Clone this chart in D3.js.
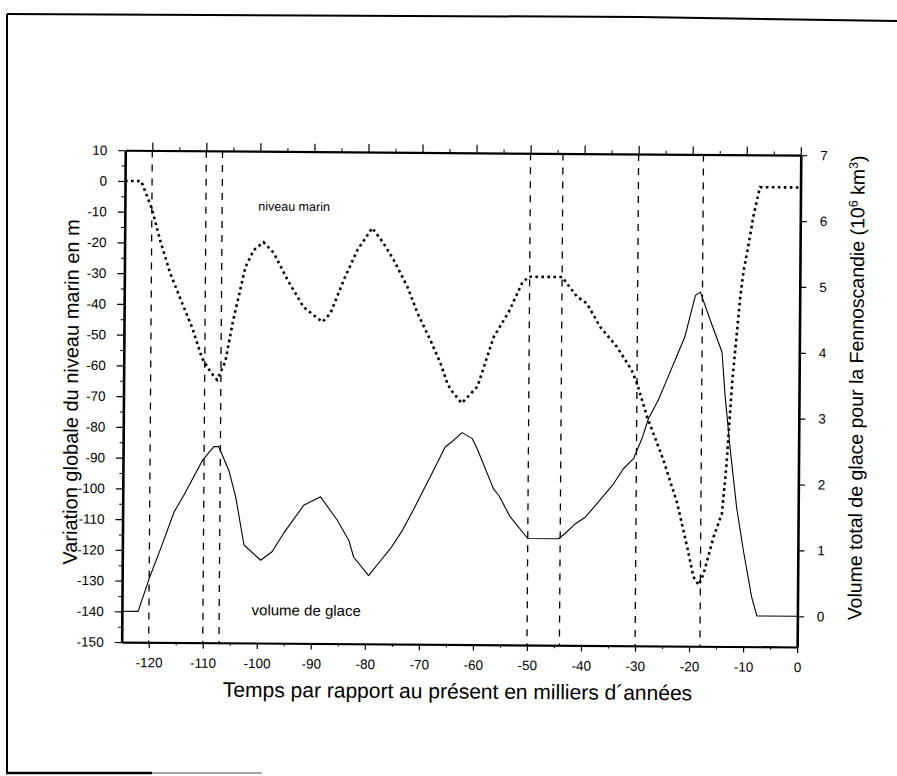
<!DOCTYPE html>
<html><head><meta charset="utf-8">
<script src="https://cdn.jsdelivr.net/npm/d3@7"></script>
<style>
body{margin:0;background:#fff}
svg{display:block}
text{font-family:"Liberation Sans",Arial,Helvetica,sans-serif;fill:#000}
</style>
</head><body>
<svg id="chart" width="897" height="776"></svg>
<script>
// ---- data ----
const seaYears = [-125,-122,-120,-118.3,-116.5,-114.3,-112.4,-110.5,-108.9,-107.7,-106.2,-104.8,-102.6,-101.1,-99.3,-97.4,-94.8,-91.8,-88.3,-86.8,-84.4,-81.9,-79.2,-77.1,-75.2,-72.6,-70.7,-68.3,-66.4,-65.1,-64.5,-62.4,-59.5,-56.6,-53.8,-51.4,-50.2,-44.0,-41.2,-39.4,-36.9,-33.8,-31.0,-30.0,-28.1,-25.0,-22.4,-20.5,-19.3,-18.3,-17.4,-15.6,-14.1,-13.3,-12.4,-11.0,-10.4,-9.6,-8.7,-7.5,0];
const seaLevel = [0,0,-9,-20,-30,-39.5,-47.5,-57.5,-62,-64.5,-58.5,-45,-27.7,-22.2,-19.6,-23,-31.8,-40.6,-45.4,-42.5,-31.7,-21.9,-14.7,-19.6,-25,-33.8,-42.3,-51,-58.5,-65,-67,-71.5,-66,-50,-41.6,-32.3,-30.2,-30.2,-36.6,-38.7,-46.3,-52.7,-60.3,-64.6,-75.4,-89.5,-103.5,-117.6,-127.4,-130.1,-126.3,-114.3,-106.7,-90.4,-64.4,-36.2,-27.5,-19.9,-10.1,-0.5,-0.5];
const iceYears = [-125,-122,-120,-117.9,-115.5,-113.7,-110.3,-108.2,-107.3,-105.4,-104.1,-102.5,-99.4,-97.3,-95.2,-91.5,-88.4,-85.3,-83.1,-82.2,-79.4,-77.2,-75.4,-73.2,-71.1,-68.1,-65.4,-64.2,-62.3,-60.4,-59.5,-56.4,-55.4,-53.3,-50,-44.3,-43.1,-41.2,-39.4,-37.2,-34.2,-32.4,-30.5,-29,-27.8,-26,-24.5,-22.7,-21.2,-20.3,-19.3,-18.4,-16.5,-14.3,-13.7,-12.7,-11.4,-10.1,-8.5,-7.5,0];
const iceVolume = [0,0,0.5,0.96,1.51,1.77,2.3,2.51,2.51,2.15,1.75,1.02,0.79,0.92,1.2,1.63,1.76,1.41,1.1,0.85,0.57,0.8,0.98,1.26,1.59,2.08,2.53,2.61,2.75,2.66,2.51,1.9,1.8,1.48,1.15,1.15,1.23,1.38,1.48,1.69,1.99,2.22,2.38,2.68,2.99,3.27,3.57,3.93,4.23,4.53,4.86,4.91,4.48,4.0,3.36,2.56,1.65,1.0,0.29,0,0];
const markerYears = [-120,-110,-107,-50,-44,-30,-18];
const xTicks = [-120,-110,-100,-90,-80,-70,-60,-50,-40,-30,-20,-10,0];
const xMinorTicks = [-115,-105,-95,-85,-75,-65,-55,-45,-35,-25,-15,-5];
const seaTicks = [10,0,-10,-20,-30,-40,-50,-60,-70,-80,-90,-100,-110,-120,-130,-140,-150];
const seaMinorTicks = [5,-5,-15,-25,-35,-45,-55,-65,-75,-85,-95,-105,-115,-125,-135,-145];
const iceTicks = [0,1,2,3,4,5,6,7];
const xTitle = "Temps par rapport au présent en milliers d\u00B4années";
const leftTitle = "Variation globale du niveau marin en m";
const seaLabel = "niveau marin";
const iceLabel = "volume de glace";

// ---- layout ----
const svg = d3.select("#chart");
const L = 123.5, R = 799, T = 152.7, B = 644.5;
const x = d3.scaleLinear().domain([-125, 0]).range([L, R]);
const ySea = d3.scaleLinear().domain([-150, 10]).range([B, T]);
// right axis: 0 km3 aligned with -140 m, 7 aligned with +10 m
const yIce = d3.scaleLinear().domain([-10/21.4286, 7]).range([B, T]);

// scanned frame
const frame = svg.append("g").attr("fill","none").attr("stroke","#000");
frame.append("polyline").attr("points","7,14 640,17 897,21").attr("stroke-width",2);
frame.append("line").attr("x1",7).attr("y1",14).attr("x2",7).attr("y2",773).attr("stroke-width",2);
frame.append("line").attr("x1",6).attr("y1",773).attr("x2",152).attr("y2",773).attr("stroke-width",2.5);
frame.append("line").attr("x1",152).attr("y1",773).attr("x2",262).attr("y2",773).attr("stroke","#888").attr("stroke-width",1.5);

const g = svg.append("g").attr("transform","rotate(0.42,460,395)");

// vertical dashed marker lines
g.append("g").selectAll("line").data(markerYears).join("line")
  .attr("x1", d => x(d)).attr("x2", d => x(d))
  .attr("y1", ySea(10)).attr("y2", ySea(-150))
  .attr("stroke","#000").attr("stroke-width",1.3).attr("stroke-dasharray","7,7");

function styleAxis(sel, w) {
  sel.select(".domain").attr("stroke","#000").attr("stroke-width", w);
  sel.selectAll(".tick line").attr("stroke","#000").attr("stroke-width",1.2);
  sel.selectAll("text").attr("font-size","13.5px").attr("font-family",'"Liberation Sans",Arial,sans-serif');
}

// bottom axis
const gb = g.append("g").attr("transform",`translate(0,${B})`)
  .call(d3.axisBottom(x).tickValues(xTicks).tickSize(6).tickSizeOuter(0).tickPadding(9.5).tickFormat(d => String(d)));
styleAxis(gb, 2.2);
g.append("g").attr("transform",`translate(0,${B})`)
  .call(d3.axisBottom(x).tickValues(xMinorTicks).tickSize(3).tickFormat(""))
  .call(s => { s.select(".domain").remove(); s.selectAll("line").attr("stroke","#000"); });

// top axis
const gt = g.append("g").attr("transform",`translate(0,${T})`)
  .call(d3.axisTop(x).tickValues(xTicks).tickSize(8).tickSizeOuter(0).tickFormat(""));
styleAxis(gt, 2.2);
g.append("g").attr("transform",`translate(0,${T})`)
  .call(d3.axisTop(x).tickValues(xMinorTicks).tickSize(3.5).tickFormat(""))
  .call(s => { s.select(".domain").remove(); s.selectAll("line").attr("stroke","#000"); });

// left axis
const gl = g.append("g").attr("transform",`translate(${L},0)`)
  .call(d3.axisLeft(ySea).tickValues(seaTicks).tickSize(7).tickSizeOuter(0).tickPadding(11).tickFormat(d => String(d)));
styleAxis(gl, 2.6);
g.append("g").attr("transform",`translate(${L},0)`)
  .call(d3.axisLeft(ySea).tickValues(seaMinorTicks).tickSize(3.5).tickFormat(""))
  .call(s => { s.select(".domain").remove(); s.selectAll("line").attr("stroke","#000"); });

// right axis
const gr = g.append("g").attr("transform",`translate(${R},0)`)
  .call(d3.axisRight(yIce).tickValues(iceTicks).tickSize(6.5).tickSizeOuter(0).tickPadding(13).tickFormat(d => String(d)));
styleAxis(gr, 2.6);

// ice volume (solid)
const iceLine = d3.line().x((d,i) => x(iceYears[i])).y(d => yIce(d));
g.append("path").attr("d", iceLine(iceVolume))
  .attr("fill","none").attr("stroke","#000").attr("stroke-width",1.1).attr("stroke-linejoin","round");

// sea level (dotted)
const seaLine = d3.line().x((d,i) => x(seaYears[i])).y(d => ySea(d));
g.append("path").attr("d", seaLine(seaLevel))
  .attr("fill","none").attr("stroke","#000").attr("stroke-width",2.6).attr("stroke-dasharray","2.6,3.4");

// in-plot labels
g.append("text").attr("x", x(-100.3)).attr("y", ySea(-9.3)).attr("font-size","12.5px").text(seaLabel);
g.append("text").attr("x", x(-101)).attr("y", yIce(-0.045)).attr("font-size","15px").text(iceLabel);

// axis titles
g.append("text").attr("x", 459.7).attr("y", 698.5).attr("text-anchor","middle").attr("font-size","21px").text(xTitle);
g.append("text").attr("transform","translate(78,394.8) rotate(-90)").attr("text-anchor","middle").attr("font-size","20px").text(leftTitle);
const rt = g.append("text").attr("transform","translate(863,385) rotate(-90)").attr("text-anchor","middle").attr("font-size","19.5px");
rt.append("tspan").text("Volume total de glace pour la Fennoscandie (10");
rt.append("tspan").attr("dy",-7).attr("font-size","12.5px").text("6");
rt.append("tspan").attr("dy",7).text(" km");
rt.append("tspan").attr("dy",-7).attr("font-size","12.5px").text("3");
rt.append("tspan").attr("dy",7).text(")");
</script>
</body></html>
